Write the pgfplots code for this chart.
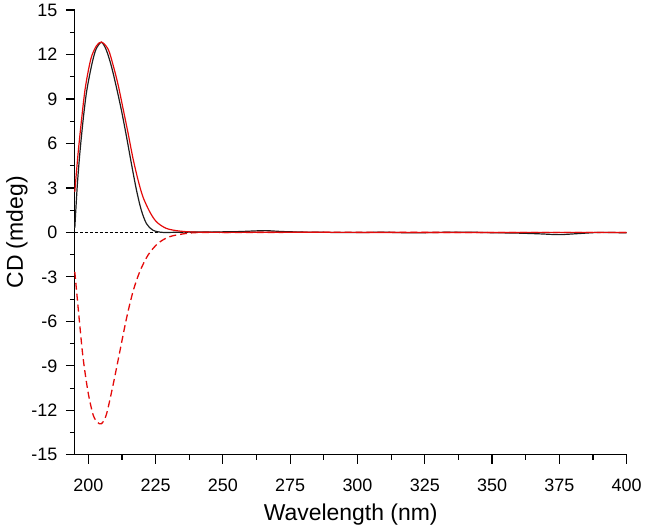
\documentclass[border=0pt]{standalone}
\usepackage{fontspec}
\setmainfont{Liberation Sans}
\usepackage{pgfplots}
\pgfplotsset{compat=1.18}
\definecolor{cdred}{RGB}{228,10,10}
\definecolor{cdblack}{RGB}{30,30,30}
\begin{document}
\begin{tikzpicture}
\begin{axis}[
  scale only axis,
  width=553.3pt, height=446pt,
  xmin=195, xmax=400, ymin=-15, ymax=15,
  axis x line*=bottom, axis y line*=left,
  axis line style={line width=1.3pt, black},
  xtick={200,225,...,400}, ytick={-15,-12,...,15},
  minor x tick num=1, minor y tick num=1,
  tick align=outside,
  major tick length=9pt, minor tick length=5pt,
  every tick/.style={line width=1.2pt, black},
  /pgf/number format/assume math mode=true,
  ticklabel style={font=\fontsize{18}{20}\selectfont},
  xticklabel style={yshift=-12pt},
  yticklabel style={xshift=-5pt},
  xlabel={Wavelength (nm)}, ylabel={CD (mdeg)},
  every axis y label/.style={at={(axis description cs:0,0.5)}, xshift=-58pt, rotate=90, anchor=center, font=\fontsize{23}{26}\selectfont},
  every axis x label/.style={at={(axis description cs:0.5,0)}, yshift=-60pt, anchor=center, font=\fontsize{23}{26}\selectfont},
  clip=false,
]
\addplot[black, line width=0.7pt, dash pattern=on 3pt off 2pt] coordinates {(195,0) (400,0)};
\addplot[cdred, line width=1.3pt, dash pattern=on 7pt off 4pt, smooth, tension=0.5] coordinates {
(195,-2.66) (196.85,-6.26) (198.1,-8.5) (199.9,-10.75) (201.8,-12.3) (203.4,-12.8) (204.9,-12.9)
(206.7,-12.3) (209.2,-10.3) (211.7,-8.05) (214.2,-5.8) (216.6,-4.0) (219.1,-2.66)
(222.2,-1.53) (225.9,-0.74) (230.2,-0.29) (236.4,-0.07) (242.6,0) (260,0) (300,0.01) (340,0) (400,0)};
\addplot[cdblack, line width=1.2pt, smooth, tension=0.5] coordinates {
(195,0.3) (195.9,3.1) (196.85,5.3) (198.1,7.6) (199.3,9.4) (200.6,10.7) (201.8,11.7) (203.0,12.4)
(204.9,12.82) (206.7,12.3) (208.6,11.2) (210.4,9.83) (212.3,8.25) (214.2,6.46) (216.0,4.66)
(217.9,2.86) (219.7,1.5) (221.6,0.6) (224.0,0.15) (227.7,0.0) (235,0.02) (245,0.03) (255,0.05)
(262,0.1) (266,0.12) (272,0.06) (280,0.02) (290,0.0) (300,-0.01) (310,0.01) (320,-0.03) (330,0.0)
(340,0.02) (350,-0.02) (360,-0.05) (368,-0.1) (375,-0.15) (382,-0.08) (390,0.0) (400,-0.03)};
\addplot[cdred, line width=1.2pt, smooth, tension=0.5] coordinates {
(195,2.74) (196.2,5.3) (197.5,7.6) (198.7,9.5) (199.9,10.8) (201.2,11.85) (203.0,12.57) (204.9,12.84)
(207.4,12.35) (209.2,11.3) (211.1,9.94) (212.9,8.37) (214.8,6.68) (216.6,5.0) (218.5,3.53)
(220.3,2.4) (222.8,1.4) (225.3,0.72) (229,0.27) (233.9,0.09) (240,0.02) (250,0.0) (270,0.01)
(300,0.0) (330,-0.01) (360,0.0) (400,0.0)};
\end{axis}
\path ([shift={(-75pt,-73pt)}]current axis.south west) rectangle ([shift={(16.7pt,10pt)}]current axis.north east);
\end{tikzpicture}
\end{document}
